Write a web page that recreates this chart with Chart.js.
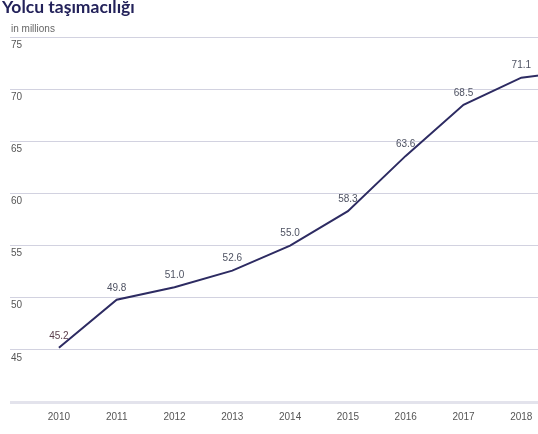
<!DOCTYPE html>
<html>
<head>
<meta charset="utf-8">
<script src="https://cdn.jsdelivr.net/npm/chart.js@4"></script>
<style>
html,body{margin:0;padding:0;overflow:hidden;background:#fff;width:538px;height:434px;}
#wrap{position:relative;width:538px;height:434px;overflow:hidden;}
#title{position:absolute;left:2px;top:-4px;font-family:Lato,"Open Sans",sans-serif;font-weight:700;font-size:17.5px;color:#23225a;white-space:nowrap;}
#unit{position:absolute;left:11px;top:23px;font-family:"Liberation Sans Narrow","Liberation Sans",sans-serif;font-size:10px;color:#666;}
canvas{position:absolute;left:0;top:0;}
</style>
</head>
<body>
<div id="wrap">
<canvas id="c" width="608" height="434"></canvas>
<div id="title">Yolcu taşımacılığı</div>
<div id="unit">in millions</div>
</div>
<script>
const years = ["2010","2011","2012","2013","2014","2015","2016","2017","2018","2019"];
const passengers = [45.2, 49.8, 51.0, 52.6, 55.0, 58.3, 63.6, 68.5, 71.1, 71.8];
const valueLabels = ["45.2","49.8","51.0","52.6","55.0","58.3","63.6","68.5","71.1","71.8"];
const yTicks = [40, 45, 50, 55, 60, 65, 70, 75];

const FONT = "'Liberation Sans Narrow','Liberation Sans',sans-serif";

const labelPlugin = {
  id: 'valueLabels',
  afterDatasetsDraw(chart) {
    const ctx = chart.ctx;
    const meta = chart.getDatasetMeta(0);
    ctx.save();
    ctx.font = "10px " + FONT;
    ctx.textAlign = 'center';
    ctx.textBaseline = 'bottom';
    meta.data.forEach((pt, i) => {
      ctx.fillStyle = i === 0 ? '#5a3d4a' : '#4e5262';
      ctx.fillText(valueLabels[i], pt.x, pt.y - 7);
    });
    ctx.restore();
  }
};

new Chart(document.getElementById('c'), {
  type: 'line',
  data: {
    labels: years,
    datasets: [{
      data: passengers,
      borderColor: '#2d2b62',
      borderWidth: 2,
      pointRadius: 0,
      tension: 0,
      fill: false
    }]
  },
  options: {
    responsive: false,
    animation: false,
    devicePixelRatio: 1,
    layout: { padding: { top: 37, left: 11, right: 0, bottom: 0 } },
    plugins: { legend: { display: false }, tooltip: { enabled: false } },
    scales: {
      x: {
        type: 'category',
        offset: true,
        grid: { display: false, drawTicks: false },
        border: { display: false },
        ticks: { color: '#555', font: { family: FONT, size: 10 }, padding: 9, maxRotation: 0 },
        afterFit(s) { s.height = 32; }
      },
      y: {
        min: 40, max: 75,
        afterBuildTicks(s) { s.ticks = yTicks.map(v => ({ value: v })); },
        grid: {
          color: (c) => c.tick && c.tick.value === 40 ? '#e3e3ec' : '#d2d2e0',
          lineWidth: (c) => c.tick && c.tick.value === 40 ? 3 : 1,
          tickLength: 20,
          tickColor: (c) => c.tick && c.tick.value === 40 ? '#e3e3ec' : '#d2d2e0',
          tickWidth: (c) => c.tick && c.tick.value === 40 ? 3 : 1
        },
        border: { display: false },
        ticks: {
          crossAlign: 'far',
          labelOffset: 8,
          padding: 0,
          color: '#555',
          font: { family: FONT, size: 10 },
          callback: (v) => v === 40 ? '' : String(v)
        },
        afterFit(s) { s.width = 19; }
      }
    }
  },
  plugins: [labelPlugin]
});
</script>
</body>
</html>
